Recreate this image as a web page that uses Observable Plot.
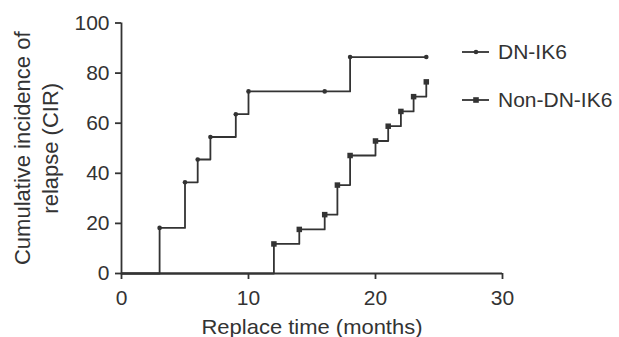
<!DOCTYPE html>
<html>
<head>
<meta charset="utf-8">
<script src="https://cdn.jsdelivr.net/npm/d3@7"></script>
<script src="https://cdn.jsdelivr.net/npm/@observablehq/plot@0.6"></script>
<style>
  html, body { margin: 0; padding: 0; background: #fff; }
  #wrap { position: relative; width: 619px; height: 337px; font-family: "Liberation Sans", Arial, sans-serif; color: #333; overflow: hidden; }
  #legend { position: absolute; left: 462px; top: 39px; font-size: 21px; }
  .item { display: flex; align-items: center; height: 26px; margin-bottom: 22px; white-space: nowrap; }
  .item svg { margin-right: 8px; }
</style>
</head>
<body>
<div id="wrap"></div>
<script>
// Series names
const seriesNames = ["DN-IK6", "Non-DN-IK6"];
// DN-IK6 step curve (months, CIR %)
const dnTime = [0, 3, 5, 6, 7, 9, 10, 16, 18, 24];
const dnCIR  = [0, 18.2, 36.4, 45.5, 54.5, 63.6, 72.7, 72.7, 86.4, 86.4];
// Non-DN-IK6 step curve
const nonTime = [0, 12, 14, 16, 17, 18, 20, 21, 22, 23, 24];
const nonCIR  = [0, 11.8, 17.6, 23.5, 35.3, 47.1, 52.9, 58.8, 64.7, 70.6, 76.5];
// Axis ticks
const xTicks = [0, 10, 20, 30];
const yTicks = [0, 20, 40, 60, 80, 100];
const xLabel = "Replace time (months)";
const yLabel = "Cumulative incidence of\nrelapse (CIR)";

const dn = dnTime.map((t, i) => ({t, v: dnCIR[i], s: seriesNames[0]}));
const non = nonTime.map((t, i) => ({t, v: nonCIR[i], s: seriesNames[1]}));
const dnMarks = dn.slice(1);
const nonMarks = non.slice(1);

const ink = "#333";
const sw = 1.8;
const chart = Plot.plot({
  width: 619,
  height: 337,
  marginLeft: 121,
  marginRight: 117,
  marginTop: 22.5,
  marginBottom: 64,
  style: {fontFamily: "Liberation Sans, Arial, sans-serif", fontSize: "21px", color: ink, background: "#fff", overflow: "visible"},
  x: {domain: [0, 30]},
  y: {domain: [0, 100]},
  marks: [
    Plot.ruleX([0], {stroke: ink, strokeWidth: sw}),
    Plot.ruleY([0], {stroke: ink, strokeWidth: sw}),
    Plot.axisX({ticks: xTicks, tickSize: 6, tickPadding: 11, stroke: ink, strokeWidth: sw, fontSize: 21, fill: ink,
                label: xLabel, labelAnchor: "center", labelArrow: "none", labelOffset: 60}),
    Plot.axisY({ticks: yTicks, tickSize: 6, tickPadding: 6, stroke: ink, strokeWidth: sw, fontSize: 21, fill: ink, label: null}),
    Plot.text([yLabel], {frameAnchor: "left", textAnchor: "middle", rotate: -90, dx: -86, fontSize: 22, fill: ink, lineHeight: 1.27}),
    Plot.line(dn, {x: "t", y: "v", curve: "step-after", stroke: ink, strokeWidth: sw}),
    Plot.line(non, {x: "t", y: "v", curve: "step-after", stroke: ink, strokeWidth: sw}),
    Plot.dot(dnMarks, {x: "t", y: "v", r: 2.3, fill: ink, stroke: null}),
    Plot.dot(nonMarks, {x: "t", y: "v", symbol: "square", r: 3.1, fill: ink, stroke: null})
  ]
});

const wrap = document.getElementById("wrap");
wrap.appendChild(chart);

// The reference's x-axis title is set slightly wider than the others
const xl = chart.querySelector('g[aria-label="x-axis label"] text');
if (xl) { xl.setAttribute("textLength", "221"); xl.setAttribute("lengthAdjust", "spacingAndGlyphs"); }

const legend = document.createElement("div");
legend.id = "legend";
seriesNames.forEach((name, i) => {
  const item = document.createElement("div");
  item.className = "item";
  const marker = i === 0
    ? `<circle cx="14" cy="7" r="2.3" fill="${ink}"/>`
    : `<rect x="11.2" y="4.2" width="5.6" height="5.6" fill="${ink}"/>`;
  item.innerHTML = `<svg width="28" height="14"><line x1="0" x2="27" y1="7" y2="7" stroke="${ink}" stroke-width="${sw}"/>${marker}</svg><span>${name}</span>`;
  legend.appendChild(item);
});
wrap.appendChild(legend);
</script>
</body>
</html>
